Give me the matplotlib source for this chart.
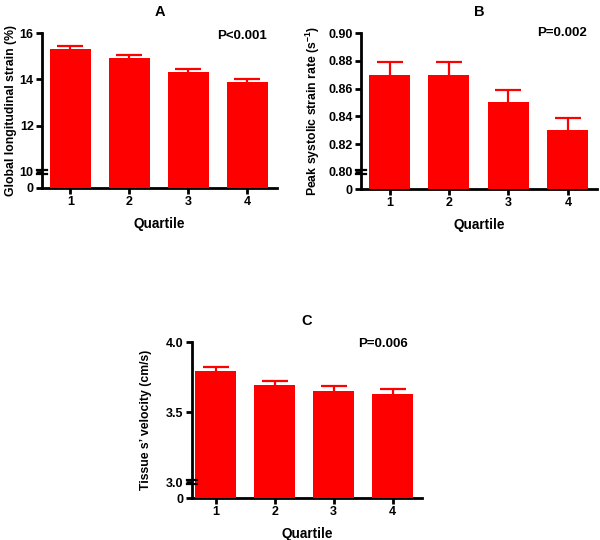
import numpy as np
import matplotlib
matplotlib.use("Agg")
import matplotlib.pyplot as plt
from matplotlib import font_manager
from matplotlib.transforms import blended_transform_factory, offset_copy

plt.rcParams['font.family'] = ['Liberation Sans', 'DejaVu Sans']
plt.rcParams['font.weight'] = 'bold'
plt.rcParams['mathtext.fontset'] = 'custom'
plt.rcParams['mathtext.rm'] = 'Liberation Sans:bold'
plt.rcParams['mathtext.bf'] = 'Liberation Sans:bold'
plt.rcParams['mathtext.default'] = 'bf'

names = {f.name for f in font_manager.fontManager.ttflist}
label_family = ['Liberation Sans Narrow'] if 'Liberation Sans Narrow' in names else ['Liberation Sans']
label_size = 10 if 'Liberation Sans Narrow' in names else 8.8

quartiles = [1, 2, 3, 4]
quartile_labels = ['1', '2', '3', '4']

gls_mean = [15.3, 14.9, 14.3, 13.9]
gls_sem = [0.14, 0.15, 0.14, 0.13]

sr_mean = [0.87, 0.87, 0.85, 0.83]
sr_sem = [0.009, 0.009, 0.009, 0.009]

vel_mean = [3.79, 3.69, 3.65, 3.63]
vel_sem = [0.035, 0.035, 0.037, 0.037]

panels = [
    dict(title='A', mean=gls_mean, sem=gls_sem, ylabel='Global longitudinal strain (%)',
         ptext='P<0.001', brk=10.0, k=0.07, ylim=16.0, yticks=[0, 10, 12, 14, 16],
         yticklabels=['0', '10', '12', '14', '16'],
         pos=[42/600, 1-188/540, 235/600, 155/540], xlim=(0.52, 4.5), px=0.85, py=0.98,
         lx=-0.105),
    dict(title='B', mean=sr_mean, sem=sr_sem, ylabel=r'Peak systolic strain rate (s$^{-1}$)',
         ptext='P=0.002', brk=0.80, k=0.0153, ylim=0.90,
         yticks=[0, 0.80, 0.82, 0.84, 0.86, 0.88, 0.90],
         yticklabels=['0', '0.80', '0.82', '0.84', '0.86', '0.88', '0.90'],
         pos=[361/600, 1-189/540, 236/600, 156/540], xlim=(0.52, 4.49), px=0.85, py=1.0,
         lx=-0.165),
    dict(title='C', mean=vel_mean, sem=vel_sem, ylabel='Tissue s\u2019 velocity (cm/s)',
         ptext='P=0.006', brk=3.0, k=0.038, ylim=4.0, yticks=[0, 3.0, 3.5, 4.0],
         yticklabels=['0', '3.0', '3.5', '4.0'],
         pos=[192/600, 1-498/540, 230/600, 156/540], xlim=(0.6, 4.5), px=0.83, py=0.99,
         lx=-0.175),
]

fig = plt.figure(figsize=(6, 5.4), dpi=100)
red = '#ff0000'

for p in panels:
    ax = fig.add_axes(p['pos'])
    b, k = p['brk'], p['k']

    def fwd(v, b=b, k=k):
        v = np.asarray(v, dtype=float)
        return np.where(v >= b, v, b - (b - v) * k)

    def inv(u, b=b, k=k):
        u = np.asarray(u, dtype=float)
        return np.where(u >= b, u, b - (b - u) / k)

    ax.set_yscale('function', functions=(fwd, inv))
    ax.bar(quartiles, p['mean'], width=0.69, color=red, edgecolor='none', zorder=3)
    ax.errorbar(quartiles, p['mean'], yerr=p['sem'], fmt='none',
                ecolor=red, elinewidth=1.6, capsize=9.5, capthick=1.6, zorder=1)
    ax.set_ylim(0, p['ylim'])
    ax.set_xlim(*p['xlim'])
    ax.set_yticks(p['yticks'])
    ax.set_yticklabels(p['yticklabels'])
    ax.yaxis.set_minor_locator(matplotlib.ticker.NullLocator())
    ax.set_xticks(quartiles)
    ax.set_xticklabels(quartile_labels)
    for s in ['top', 'right']:
        ax.spines[s].set_visible(False)
    for s in ['left', 'bottom']:
        ax.spines[s].set_linewidth(2.0)
    ax.tick_params(axis='both', direction='out', width=2.0, length=4.5,
                   labelsize=9, pad=1.5)
    ax.set_xlabel('Quartile', fontsize=9.8, fontweight='bold', labelpad=6)
    ax.set_ylabel(p['ylabel'], fontsize=label_size, fontweight='bold', family=label_family)
    ax.yaxis.set_label_coords(p['lx'], 0.5)
    ax.set_title(p['title'], fontsize=10.5, fontweight='bold', pad=12)
    ax.text(p['px'], p['py'], p['ptext'], transform=ax.transAxes, ha='center',
            va='center', fontsize=9.5, fontweight='bold')
    # axis break marks
    tr = blended_transform_factory(ax.transAxes, ax.transData)
    for dy in (-2.0, 2.0):
        t2 = offset_copy(tr, fig=fig, x=0, y=dy, units='dots')
        ax.plot([-0.022, 0.022], [b, b], color='black', lw=1.6,
                transform=t2, clip_on=False, zorder=5)

fig.savefig('out.png', dpi=100)
